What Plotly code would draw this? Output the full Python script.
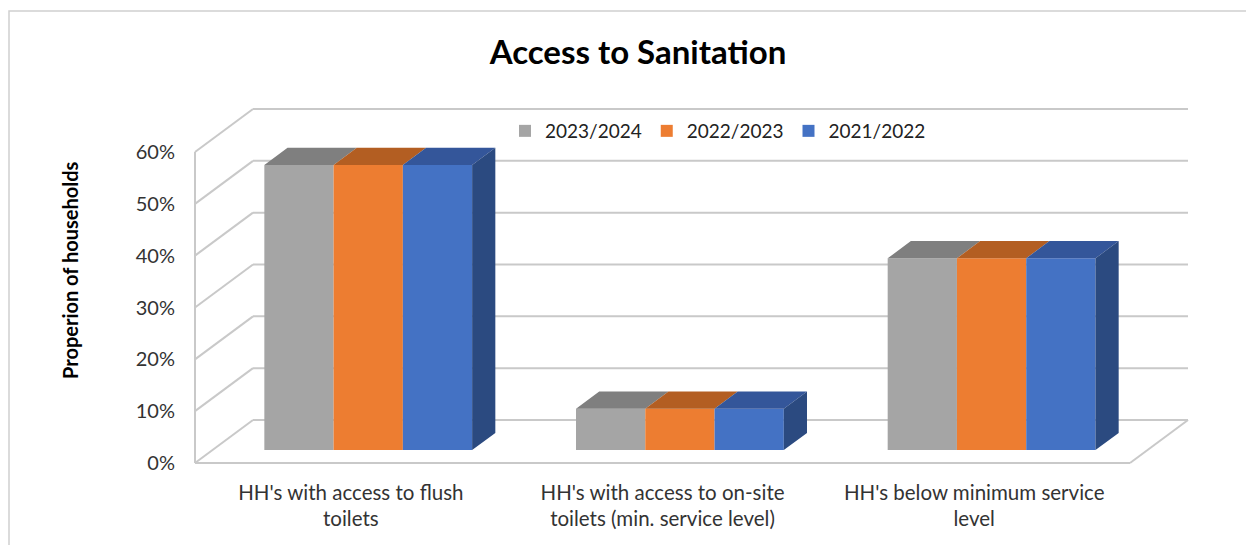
import plotly.graph_objects as go

# ---------------- data ----------------
categories = [
    "HH's with access to flush<br>toilets",
    "HH's with access to on-site<br>toilets (min. service level)",
    "HH's below minimum service<br>level",
]
series_names = ["2023/2024", "2022/2023", "2021/2022"]
values_2023_2024 = [55, 8, 37]
values_2022_2023 = [55, 8, 37]
values_2021_2022 = [55, 8, 37]
y_tick_values = [0, 10, 20, 30, 40, 50, 60]
y_tick_labels = ["0%", "10%", "20%", "30%", "40%", "50%", "60%"]
title_text = "Access to Sanitation"
y_title_text = "Properion of households"

# ---------------- styles ----------------
front_colors = ["#A5A5A5", "#ED7D31", "#4472C4"]
top_colors = ["#7F7F7F", "#B35E22", "#34569A"]
side_colors = ["#6E6E6E", "#9C5219", "#2B4A80"]
grid_color = "#C9C9C9"
FONT = "Lato"

# ---------------- geometry (page pixels) ----------------
OFF = 8                                        # default body margin of the html page
WIN_W, WIN_H = 1254, 545
W, H = WIN_W - OFF, WIN_H - OFF                # figure size


def fx_(p):  # page x -> figure x
    return p - OFF


def fy_(p):  # page y -> figure y
    return p - OFF


PL, PR, PT, PB = 178, 1200, 95, 468            # plot area (page px)
FRONT_LEFT_PX = 195                            # front-left edge of floor
FLOOR_PX = 463                                 # front floor line (0%)
CAT_PX = 311.67                                # px per category
PCT_PX = 311.0 / 60.0                          # px per percent
DEPTH_DX_PX, DEPTH_DY_PX = 58.0, 43.0          # 3D depth offset of the walls

n = len(categories)
x0, x1 = -0.5, n - 0.5
x_range = [x0 - (FRONT_LEFT_PX - PL) / CAT_PX, x0 + (PR - FRONT_LEFT_PX) / CAT_PX]
y_range = [(FLOOR_PX - PB) / PCT_PX, (FLOOR_PX - PT) / PCT_PX]
DX = DEPTH_DX_PX / CAT_PX
DY = DEPTH_DY_PX / PCT_PX

bar_w = 0.6667 / 3.0
front_depth = 0.30
bar_depth = 0.40
fx, fy = front_depth * DX, front_depth * DY
bx, by = bar_depth * DX, bar_depth * DY


def paper_x(p):
    return (p - PL) / (PR - PL)


def paper_y(p):
    return (PB - p) / (PB - PT)


fig = go.Figure()

all_values = [values_2023_2024, values_2022_2023, values_2021_2022]

# front faces (real bars)
for k, (name, vals) in enumerate(zip(series_names, all_values)):
    xs = [i + fx + (k - 1) * bar_w for i in range(n)]
    fig.add_trace(go.Bar(
        x=xs, y=vals, base=fy, width=bar_w, name=name,
        marker=dict(color=front_colors[k], line=dict(width=0)),
        hoverinfo="skip",
    ))

# top faces and right side faces (3D effect)
for k, vals in enumerate(all_values):
    tx, ty = [], []
    sx, sy = [], []
    for i, v in enumerate(vals):
        xl = i + fx + (k - 1.5) * bar_w
        xr = xl + bar_w
        top = fy + v
        tx += [xl, xr, xr + bx, xl + bx, xl, None]
        ty += [top, top, top + by, top + by, top, None]
        if k == len(all_values) - 1:
            sx += [xr, xr, xr + bx, xr + bx, xr, None]
            sy += [fy, top, top + by, fy + by, fy, None]
    fig.add_trace(go.Scatter(x=tx, y=ty, mode="lines", fill="toself",
                             fillcolor=top_colors[k], line=dict(width=0, color=top_colors[k]),
                             showlegend=False, hoverinfo="skip"))
    if sx:
        fig.add_trace(go.Scatter(x=sx, y=sy, mode="lines", fill="toself",
                                 fillcolor=side_colors[k], line=dict(width=0, color=side_colors[k]),
                                 showlegend=False, hoverinfo="skip"))

# walls / gridlines (drawn below the bars)
shapes = []
line_style = dict(color=grid_color, width=2)
for v in y_tick_values:
    shapes.append(dict(type="line", xref="x", yref="y", layer="below",
                       x0=x0 + DX, y0=v + DY, x1=x1 + DX, y1=v + DY, line=line_style))
    shapes.append(dict(type="line", xref="x", yref="y", layer="below",
                       x0=x0, y0=v, x1=x0 + DX, y1=v + DY, line=line_style))
shapes.append(dict(type="line", xref="x", yref="y", layer="below",
                   x0=x0, y0=0, x1=x0, y1=max(y_tick_values), line=line_style))
shapes.append(dict(type="line", xref="x", yref="y", layer="below",
                   x0=x0, y0=0, x1=x1, y1=0, line=line_style))
shapes.append(dict(type="line", xref="x", yref="y", layer="below",
                   x0=x1, y0=0, x1=x1 + DX, y1=DY, line=line_style))
# chart border
shapes.append(dict(type="rect", xref="paper", yref="paper", layer="below",
                   x0=paper_x(9), y0=paper_y(580),
                   x1=paper_x(1290), y1=paper_y(11),
                   line=dict(color="#D0D0D0", width=1.5)))

fig.update_layout(
    width=W, height=H,
    margin=dict(l=fx_(PL), r=W - fx_(PR), t=fy_(PT), b=H - fy_(PB), pad=0),
    paper_bgcolor="white", plot_bgcolor="white",
    barmode="overlay",
    font=dict(family=FONT, color="#333333"),
    title=dict(text=f"<b>{title_text}</b>", x=fx_(638) / W, xanchor="center",
               y=1 - fy_(52) / H, yanchor="middle",
               font=dict(family=FONT, size=33, color="#000000")),
    xaxis=dict(range=x_range, showgrid=False, zeroline=False, showline=False,
               tickmode="array", tickvals=list(range(n)), ticktext=categories,
               tickfont=dict(size=20.5, color="#333333"), ticks="",
               ticklabelstandoff=10, fixedrange=True),
    yaxis=dict(range=y_range, showgrid=False, zeroline=False, showline=False,
               tickmode="array", tickvals=y_tick_values, ticktext=y_tick_labels,
               tickfont=dict(size=20, color="#333333"), ticks="",
               ticklabelstandoff=2, fixedrange=True),
    legend=dict(orientation="h", x=paper_x(505), xanchor="left",
                y=paper_y(131), yanchor="middle",
                font=dict(size=19, color="#222222"), bgcolor="rgba(0,0,0,0)",
                traceorder="normal"),
    shapes=shapes,
    annotations=[dict(text=f"<b>{y_title_text}</b>", textangle=-90,
                      xref="paper", yref="paper",
                      x=paper_x(70), y=paper_y(270),
                      xanchor="center", yanchor="middle", showarrow=False,
                      font=dict(family=FONT, size=20, color="#000000"))],
)

fig.write_html("out.html")
